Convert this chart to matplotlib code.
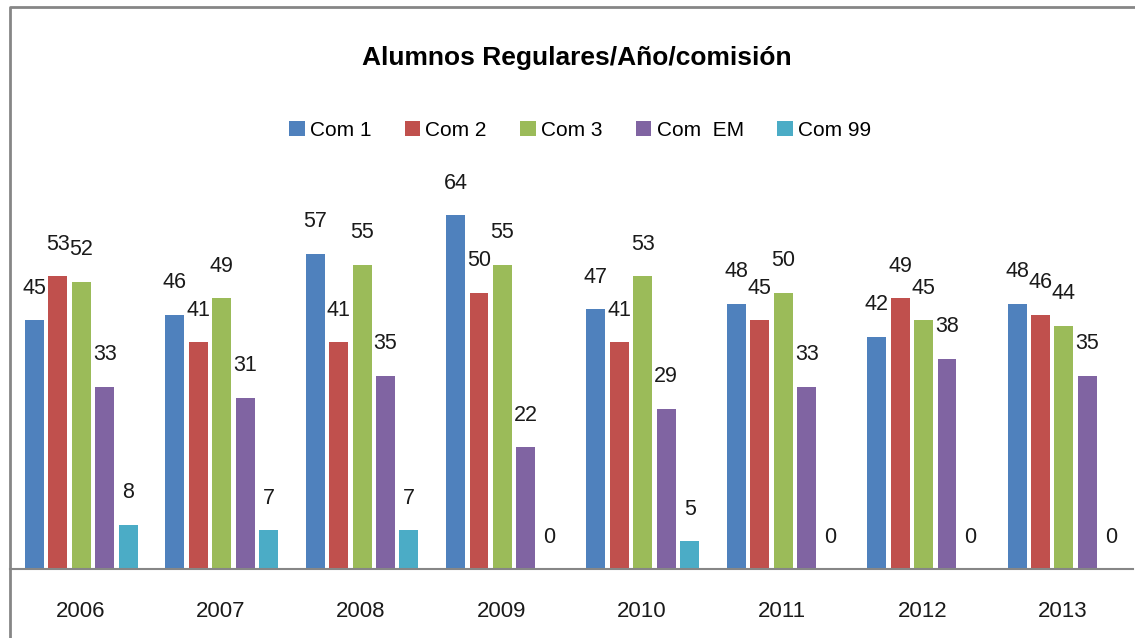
import numpy as np
import matplotlib.pyplot as plt
from matplotlib.lines import Line2D

plt.rcParams['font.family'] = ['Liberation Sans', 'DejaVu Sans']

years = ['2006', '2007', '2008', '2009', '2010', '2011', '2012', '2013']
series = ['Com 1', 'Com 2', 'Com 3', 'Com  EM', 'Com 99']
com1 = [45, 46, 57, 64, 47, 48, 42, 48]
com2 = [53, 41, 41, 50, 41, 45, 49, 46]
com3 = [52, 49, 55, 55, 53, 50, 45, 44]
com_em = [33, 31, 35, 22, 29, 33, 38, 35]
com99 = [8, 7, 7, 0, 5, 0, 0, 0]
colors = ['#4F81BD', '#C0504D', '#9BBB59', '#8064A2', '#4BACC6']

W, H = 1135, 638
fig = plt.figure(figsize=(W / 100, H / 100), dpi=100)
ax = fig.add_axes([10 / W, 1 - 569 / H, 1123 / W, 387 / H])

x = np.arange(len(years))
pitch = 0.167
width = 0.135
for i, (name, vals) in enumerate(zip(series, [com1, com2, com3, com_em, com99])):
    pos = x + (i - 2) * pitch + 0.008
    ax.bar(pos, vals, width=width, color=colors[i], label=name)
    for px, v in zip(pos, vals):
        ax.annotate(str(v), (px, v), xytext=(0, 23), textcoords='offset points',
                    ha='center', va='center', fontsize=15.5, color='#1a1a1a')

ax.set_xlim(-0.5, len(years) - 0.5)
ax.set_ylim(0, 70)
ax.set_xticks(x)
ax.set_xticklabels(years, fontsize=16, color='#1a1a1a')
ax.tick_params(axis='x', length=0, pad=23)
ax.set_yticks([])
for s in ['left', 'right', 'top']:
    ax.spines[s].set_visible(False)
ax.spines['bottom'].set_color('#868686')
ax.spines['bottom'].set_linewidth(1.5)

fig.text(577 / W, 1 - 58 / H, 'Alumnos Regulares/Año/comisión', ha='center', va='center',
         fontsize=19, fontweight='bold', color='black')
fig.legend(loc='center', bbox_to_anchor=(580 / W, 1 - 130 / H), ncol=5, frameon=False,
           fontsize=15, handlelength=0.75, handleheight=0.75, handletextpad=0.25,
           columnspacing=1.6)

# chart border
fig.add_artist(Line2D([10 / W, 10 / W, 1.0], [0, 1 - 7 / H, 1 - 7 / H],
                      transform=fig.transFigure, color='#868686', linewidth=2))

fig.savefig('out.png', dpi=100)
